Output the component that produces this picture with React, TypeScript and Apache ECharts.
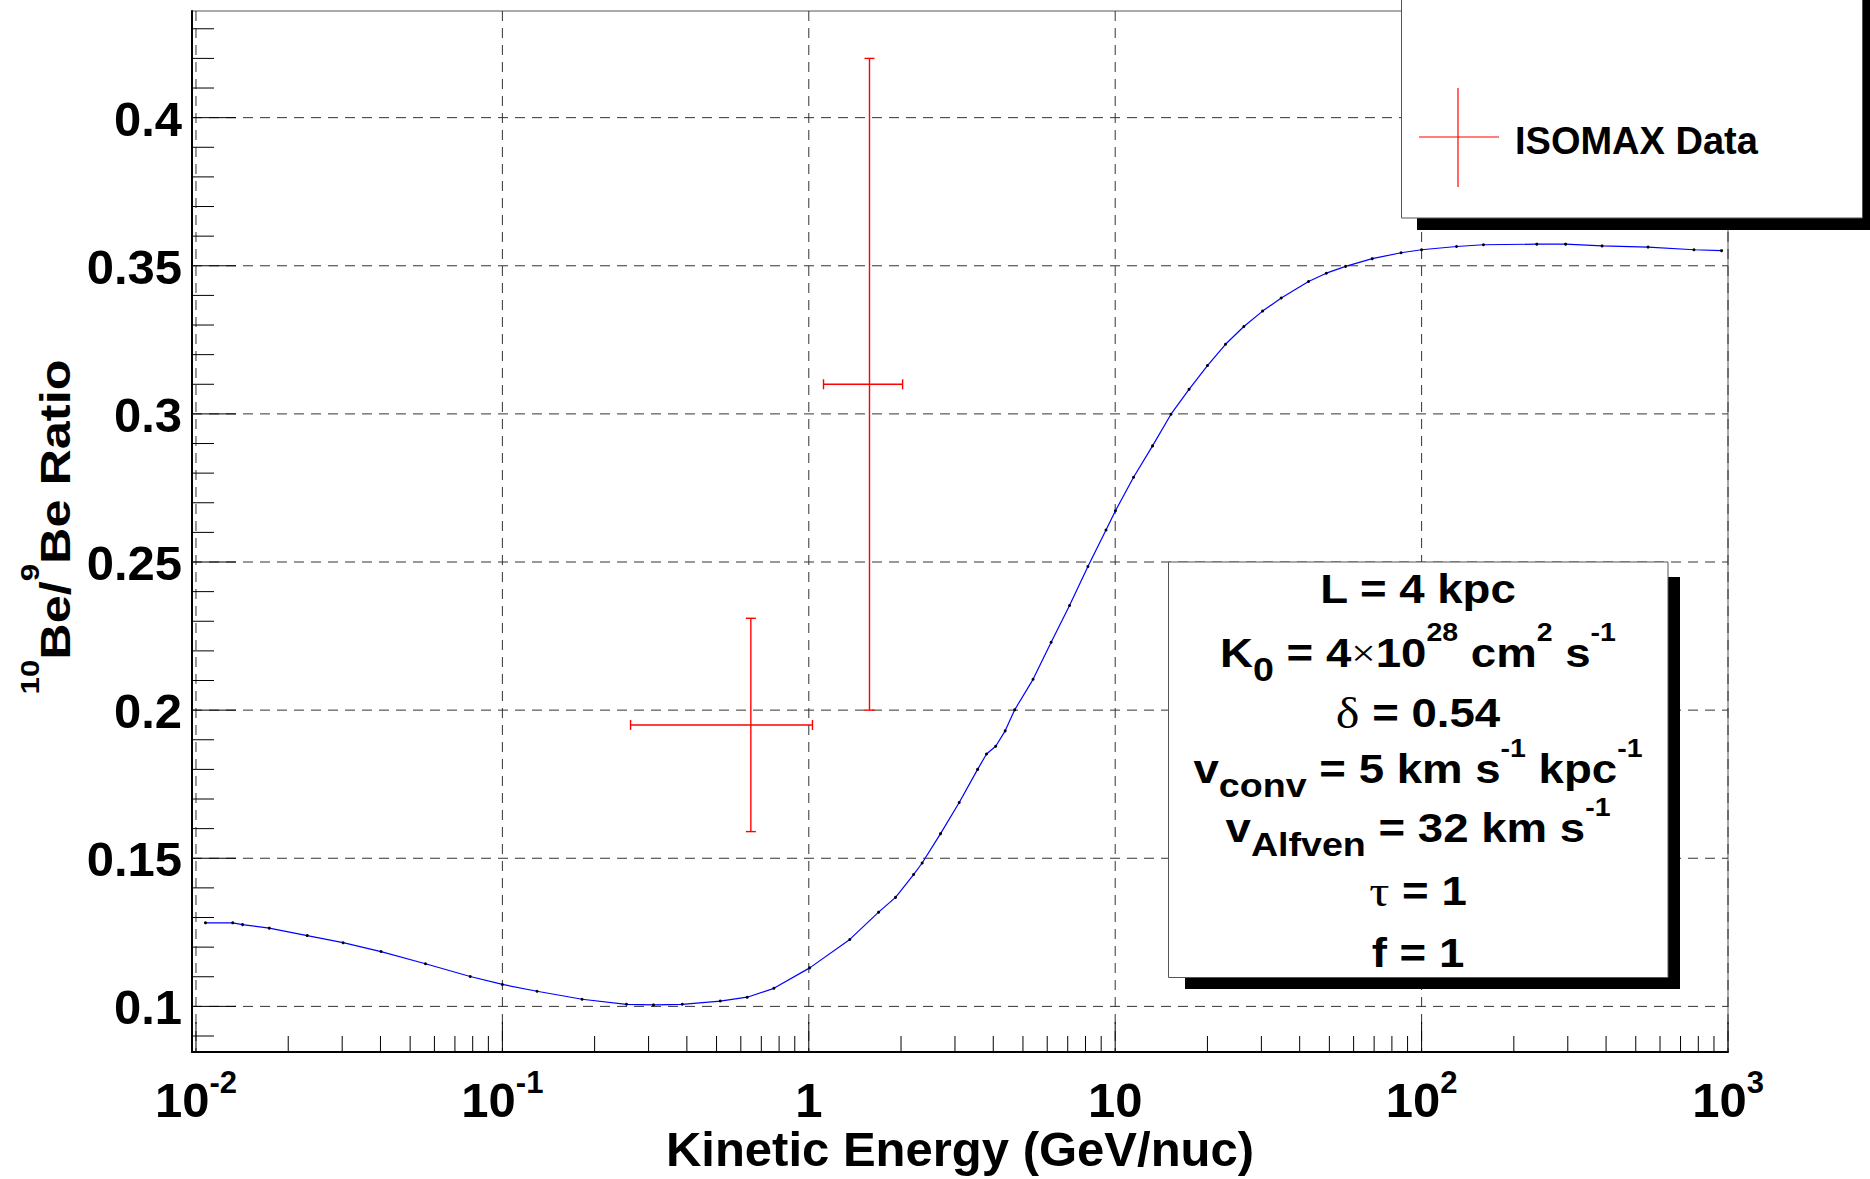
import React, { useEffect, useRef } from 'react';
import * as echarts from 'echarts';

// ---- Model curve: 10Be/9Be ratio vs kinetic energy (GeV/nuc) ----
const energy = [
  0.01074, 0.01318, 0.01419, 0.01734, 0.02307, 0.0302, 0.04018, 0.0561, 0.07852, 0.1,
  0.1297, 0.182, 0.2541, 0.3112, 0.3864, 0.514, 0.6295, 0.7691, 1.007, 1.361,
  1.69, 1.919, 2.198, 2.344, 2.692, 3.097, 3.556, 3.802, 4.074, 4.375,
  4.699, 5.395, 6.18, 7.096, 8.147, 9.333, 10.02, 11.48, 13.24, 15.21,
  17.42, 20.0, 22.91, 26.3, 30.27, 34.83, 42.76, 48.87, 56.49, 69.02,
  85.7, 100.0, 130.0, 159.2, 237.7, 295.1, 388.2, 548.3, 774.5, 952.8,
];
const ratio = [
  0.1282, 0.1282, 0.1276, 0.1264, 0.1239, 0.1215, 0.1185, 0.1144, 0.1101, 0.1074,
  0.1051, 0.1024, 0.1007, 0.1005, 0.1007, 0.1018, 0.1031, 0.1061, 0.113, 0.1226,
  0.1318, 0.1368, 0.1445, 0.1484, 0.1583, 0.1688, 0.18, 0.1852, 0.1878, 0.193,
  0.2001, 0.2104, 0.2229, 0.2353, 0.2485, 0.2608, 0.2673, 0.2786, 0.2892, 0.2999,
  0.3083, 0.3163, 0.3235, 0.3295, 0.3347, 0.3391, 0.3447, 0.3475, 0.3498, 0.3524,
  0.3544, 0.3554, 0.3565, 0.3571, 0.3573, 0.3573, 0.3567, 0.3563, 0.3554, 0.3551,
];

// ---- ISOMAX data points ----
const isomaxE = [0.647, 1.578];
const isomaxELow = [0.262, 1.117];
const isomaxEHigh = [1.028, 2.024];
const isomaxRatio = [0.195, 0.31];
const isomaxErr = [0.036, 0.11];

// ---- Axes ----
const xMajorTicks = [0.01, 0.1, 1, 10, 100, 1000];
const xTickLabels = ['{b|10}{s|-2}', '{b|10}{s|-1}', '{b|1}', '{b|10}', '{b|10}{s|2}', '{b|10}{s|3}'];
const xMinorDecades = [0.01, 0.1, 1, 10, 100];
const xMinorMultipliers = [2, 3, 4, 5, 6, 7, 8, 9];
const yMajorTicks = [0.1, 0.15, 0.2, 0.25, 0.3, 0.35, 0.4];
const yTickLabels = ['0.1', '0.15', '0.2', '0.25', '0.3', '0.35', '0.4'];
const yMinorTicks = [
  0.09, 0.11, 0.12, 0.13, 0.14, 0.16, 0.17, 0.18, 0.19, 0.21, 0.22, 0.23, 0.24,
  0.26, 0.27, 0.28, 0.29, 0.31, 0.32, 0.33, 0.34, 0.36, 0.37, 0.38, 0.39, 0.41, 0.42, 0.43,
];

const X_MIN = -2.013;
const X_MAX = 3;
const Y_MIN = 0.0846;
const Y_MAX = 0.436;

const FONT = "'Liberation Sans', Arial, Helvetica, sans-serif";
const SERIF = "'Liberation Serif', 'Times New Roman', serif";

const boxLines = [
  '{m|L = 4 kpc}',
  '{m|K}{sub|0}{m| = 4}{x|×}{m|10}{sup|28}{m| cm}{sup|2}{m| s}{sup|-1}',
  '{g|δ}{m| = 0.54}',
  '{m|v}{sub|conv}{m| = 5 km s}{sup|-1}{m| kpc}{sup|-1}',
  '{m|v}{sub|Alfven}{m| = 32 km s}{sup|-1}',
  '{g|τ}{m| = 1}',
  '{m|f = 1}',
];
const boxLineY = [589, 653, 713, 769, 828, 891, 953];

const boxRich = {
  m: { fontSize: 40, fontWeight: 'bold', fontFamily: FONT, fill: '#000', lineHeight: 66 },
  sub: { fontSize: 33, fontWeight: 'bold', fontFamily: FONT, fill: '#000', lineHeight: 34, verticalAlign: 'bottom' },
  sup: { fontSize: 25, fontWeight: 'bold', fontFamily: FONT, fill: '#000', lineHeight: 25, verticalAlign: 'top' },
  g: { fontSize: 44, fontWeight: 'normal', fontFamily: SERIF, fill: '#000', lineHeight: 66 },
  x: { fontSize: 38, fontWeight: 'normal', fontFamily: SERIF, fill: '#000', lineHeight: 66 },
};

const xLabelRich = {
  b: { fontSize: 49, fontWeight: 'bold', fontFamily: FONT, fill: '#000', lineHeight: 66 },
  s: { fontSize: 31, fontWeight: 'bold', fontFamily: FONT, fill: '#000', lineHeight: 31, verticalAlign: 'top' },
};

const GRID_COLOR = '#333';
const GRID_DASH = [10, 7];

function buildOption() {
  const curveData = energy.map((e, i) => [Math.log10(e), ratio[i]]);
  const errData = isomaxE.map((e, i) => [
    Math.log10(e),
    isomaxRatio[i],
    Math.log10(isomaxELow[i]),
    Math.log10(isomaxEHigh[i]),
    isomaxRatio[i] - isomaxErr[i],
    isomaxRatio[i] + isomaxErr[i],
  ]);
  const xMinor: number[][] = [];
  xMinorDecades.forEach((d) => xMinorMultipliers.forEach((k) => xMinor.push([Math.log10(k * d), Y_MIN])));

  const textStyleBase = { fontFamily: FONT, fontWeight: 'bold', fill: '#000' };

  const boxTexts = boxLines.map((t, i) => ({
    type: 'text',
    x: 1418,
    y: boxLineY[i],
    scaleX: 1.14,
    z: 102,
    style: { text: t, rich: boxRich, align: 'center', verticalAlign: 'middle' },
  }));

  return {
    animation: false,
    backgroundColor: '#fff',
    grid: {
      left: 192, top: 11, width: 1536, height: 1041,
      show: true, borderColor: '#555', borderWidth: 1, backgroundColor: 'transparent',
    },
    xAxis: {
      type: 'value', min: X_MIN, max: X_MAX,
      axisLine: { show: true, onZero: false, lineStyle: { color: '#000', width: 2 } },
      axisTick: { show: false }, axisLabel: { show: false }, splitLine: { show: false },
    },
    yAxis: {
      type: 'value', min: Y_MIN, max: Y_MAX,
      axisLine: { show: true, onZero: false, lineStyle: { color: '#000', width: 2 } },
      axisTick: { show: false }, axisLabel: { show: false }, splitLine: { show: false },
    },
    series: [
      {
        type: 'custom', name: 'xgrid', coordinateSystem: 'cartesian2d', silent: true, clip: false, z: 1,
        data: xMajorTicks.map((e, i) => [Math.log10(e), Y_MIN, i]),
        renderItem: (params: any, api: any) => {
          const v = api.value(0);
          const idx = api.value(2);
          const b = api.coord([v, Y_MIN]);
          const t = api.coord([v, Y_MAX]);
          return {
            type: 'group',
            children: [
              { type: 'line', shape: { x1: b[0], y1: t[1], x2: b[0], y2: b[1] }, style: { stroke: GRID_COLOR, lineWidth: 1, lineDash: GRID_DASH } },
              { type: 'line', shape: { x1: b[0], y1: b[1], x2: b[0], y2: b[1] - 30 }, style: { stroke: '#000', lineWidth: 1 } },
              { type: 'text', x: b[0], y: b[1] + 48, style: { text: xTickLabels[idx], rich: xLabelRich, align: 'center', verticalAlign: 'middle' } },
            ],
          };
        },
      },
      {
        type: 'custom', name: 'xminor', coordinateSystem: 'cartesian2d', silent: true, clip: false, z: 1,
        data: xMinor,
        renderItem: (params: any, api: any) => {
          const b = api.coord([api.value(0), Y_MIN]);
          return { type: 'line', shape: { x1: b[0], y1: b[1], x2: b[0], y2: b[1] - 16 }, style: { stroke: '#000', lineWidth: 1 } };
        },
      },
      {
        type: 'custom', name: 'ygrid', coordinateSystem: 'cartesian2d', silent: true, clip: false, z: 1,
        data: yMajorTicks.map((v, i) => [X_MIN, v, i]),
        renderItem: (params: any, api: any) => {
          const v = api.value(1);
          const idx = api.value(2);
          const l = api.coord([X_MIN, v]);
          const r = api.coord([X_MAX, v]);
          return {
            type: 'group',
            children: [
              { type: 'line', shape: { x1: l[0], y1: l[1], x2: r[0], y2: r[1] }, style: { stroke: GRID_COLOR, lineWidth: 1, lineDash: GRID_DASH } },
              { type: 'line', shape: { x1: l[0], y1: l[1], x2: l[0] + 44, y2: l[1] }, style: { stroke: '#000', lineWidth: 1 } },
              { type: 'text', x: l[0] - 10, y: l[1] + 1, style: { ...textStyleBase, text: yTickLabels[idx], fontSize: 49, align: 'right', verticalAlign: 'middle' } },
            ],
          };
        },
      },
      {
        type: 'custom', name: 'yminor', coordinateSystem: 'cartesian2d', silent: true, clip: false, z: 1,
        data: yMinorTicks.map((v) => [X_MIN, v]),
        renderItem: (params: any, api: any) => {
          const l = api.coord([X_MIN, api.value(1)]);
          return { type: 'line', shape: { x1: l[0], y1: l[1], x2: l[0] + 22, y2: l[1] }, style: { stroke: '#000', lineWidth: 1 } };
        },
      },
      {
        type: 'line', name: 'model', data: curveData, z: 3, silent: true, clip: false,
        lineStyle: { color: '#0000ff', width: 1.2 },
        symbol: 'circle', symbolSize: 3, showSymbol: true, showAllSymbol: true,
        itemStyle: { color: '#000', borderWidth: 0 },
      },
      {
        type: 'custom', name: 'ISOMAX Data', coordinateSystem: 'cartesian2d', silent: true, clip: false, z: 4,
        data: errData,
        encode: { x: [0, 2, 3], y: [1, 4, 5] },
        renderItem: (params: any, api: any) => {
          const c = api.coord([api.value(0), api.value(1)]);
          const l = api.coord([api.value(2), api.value(1)]);
          const r = api.coord([api.value(3), api.value(1)]);
          const lo = api.coord([api.value(0), api.value(4)]);
          const hi = api.coord([api.value(0), api.value(5)]);
          const st = { stroke: '#ff0000', lineWidth: 1.4 };
          const cap = 5;
          return {
            type: 'group',
            children: [
              { type: 'line', shape: { x1: l[0], y1: c[1], x2: r[0], y2: c[1] }, style: st },
              { type: 'line', shape: { x1: c[0], y1: lo[1], x2: c[0], y2: hi[1] }, style: st },
              { type: 'line', shape: { x1: l[0], y1: c[1] - cap, x2: l[0], y2: c[1] + cap }, style: st },
              { type: 'line', shape: { x1: r[0], y1: c[1] - cap, x2: r[0], y2: c[1] + cap }, style: st },
              { type: 'line', shape: { x1: c[0] - cap, y1: lo[1], x2: c[0] + cap, y2: lo[1] }, style: st },
              { type: 'line', shape: { x1: c[0] - cap, y1: hi[1], x2: c[0] + cap, y2: hi[1] }, style: st },
            ],
          };
        },
      },
    ],
    graphic: [
      // legend
      { type: 'rect', z: 100, shape: { x: 1417, y: -30, width: 470, height: 260 }, style: { fill: '#000' } },
      { type: 'rect', z: 101, shape: { x: 1401.5, y: -40, width: 461, height: 258 }, style: { fill: '#fff', stroke: '#555', lineWidth: 1 } },
      { type: 'line', z: 102, shape: { x1: 1419, y1: 137, x2: 1499, y2: 137 }, style: { stroke: '#ff0000', lineWidth: 1.2 } },
      { type: 'line', z: 102, shape: { x1: 1458, y1: 88, x2: 1458, y2: 187 }, style: { stroke: '#ff0000', lineWidth: 1.2 } },
      { type: 'text', z: 102, x: 1515, y: 141, style: { ...textStyleBase, text: 'ISOMAX Data', fontSize: 38, align: 'left', verticalAlign: 'middle' } },
      // parameter box
      { type: 'rect', z: 100, shape: { x: 1185, y: 577, width: 495, height: 412 }, style: { fill: '#000' } },
      { type: 'rect', z: 101, shape: { x: 1168.5, y: 562, width: 499.5, height: 415.5 }, style: { fill: '#fff', stroke: '#555', lineWidth: 1 } },
      ...boxTexts,
      // axis titles
      { type: 'text', z: 102, x: 960, y: 1149, style: { ...textStyleBase, text: 'Kinetic Energy (GeV/nuc)', fontSize: 49, align: 'center', verticalAlign: 'middle' } },
      {
        type: 'text', z: 102, x: 56, y: 527, rotation: Math.PI / 2, scaleX: 1.2,
        style: {
          text: '{sup|10}{m|Be/}{sup|9}{m|Be Ratio}',
          align: 'center', verticalAlign: 'middle',
          rich: {
            m: { fontSize: 42, fontWeight: 'bold', fontFamily: FONT, fill: '#000', lineHeight: 78 },
            sup: { fontSize: 26, fontWeight: 'bold', fontFamily: FONT, fill: '#000', lineHeight: 26, verticalAlign: 'top' },
          },
        },
      },
    ],
  };
}

export default function App() {
  const ref = useRef<HTMLDivElement>(null);
  useEffect(() => {
    if (!ref.current) return;
    const chart = echarts.init(ref.current, null, { renderer: 'svg' });
    chart.setOption(buildOption() as any);
    return () => chart.dispose();
  }, []);
  return (
    <div
      ref={ref}
      style={{ position: 'absolute', left: 0, top: 0, width: 1870, height: 1179, background: '#fff' }}
    />
  );
}
